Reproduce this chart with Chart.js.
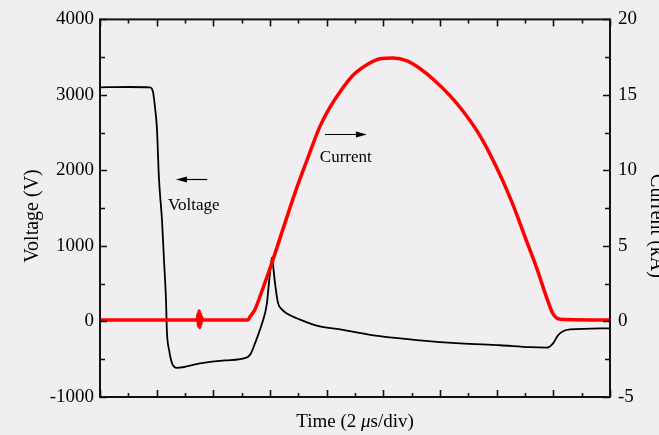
<!DOCTYPE html>
<html>
<head>
<meta charset="utf-8">
<title>Voltage and current waveform</title>
<script src="https://cdn.jsdelivr.net/npm/chart.js@4/dist/chart.umd.min.js"></script>
<style>
  html, body { margin: 0; padding: 0; background: #f1eef1; }
  #wrap { width: 659px; height: 435px; }
</style>
</head>
<body>
<div id="wrap"><canvas id="chart" width="659" height="435"></canvas></div>
<script>
// time in microseconds, voltage in V, current in kA
const voltTime = [0, 1.0, 1.76, 1.87, 1.94, 2.01, 2.08, 2.19, 2.26, 2.33, 2.36, 2.44, 2.54, 2.72,
  3.53, 4.41, 5.19, 5.33, 5.47, 5.72, 5.89, 5.96, 6.04, 6.07, 6.11, 6.18, 6.28, 6.42, 6.60,
  7.06, 7.76, 8.47, 9.88, 11.29, 12.71, 14.12, 15.18, 15.78, 15.99, 16.16, 16.34, 16.59, 18.0];
const voltValues = [3100, 3105, 3100, 3040, 2840, 2550, 1900, 1330, 800, 280, -120, -380, -550, -615,
  -555, -515, -475, -420, -290, -25, 235, 500, 775, 845, 735, 500, 250, 160, 105,
  25, -65, -105, -195, -250, -290, -315, -340, -345, -290, -185, -130, -105, -90];

const currTime = [0, 3.44, 3.46, 3.48, 3.50, 3.52, 3.54, 3.56, 3.58, 3.62, 5.22, 5.29, 5.47, 5.75,
  6.07, 6.42, 6.88, 7.31, 7.76, 8.12, 8.47, 8.93, 9.42, 9.88, 10.34, 10.84, 11.29, 11.75, 12.35,
  12.78, 13.31, 13.76, 14.22, 14.58, 15.0, 15.42, 15.78, 15.99, 16.24, 18.0];
const currValues = [0.1, 0.1, 0.5, -0.3, 0.7, -0.4, 0.5, -0.2, 0.3, 0.1, 0.1, 0.3, 0.8, 2.2,
  3.9, 5.9, 8.5, 10.7, 12.9, 14.2, 15.2, 16.3, 17.0, 17.4, 17.45, 17.25, 16.75, 16.05, 14.95,
  14.0, 12.6, 11.1, 9.3, 7.7, 5.6, 3.5, 1.5, 0.5, 0.15, 0.1];

const voltTicks = [-1000, 0, 1000, 2000, 3000, 4000];
const currTicks = [-5, 0, 5, 10, 15, 20];

const serif = "'Liberation Serif', 'Times New Roman', serif";

function toPoints(xs, ys) {
  return xs.map((x, i) => ({ x: x, y: ys[i] }));
}

function arrow(ctx, x1, y, x2) {
  // shaft from x1 to x2, head at x2
  const dir = x2 > x1 ? 1 : -1;
  ctx.beginPath();
  ctx.moveTo(x1, y);
  ctx.lineTo(x2 - dir * 6, y);
  ctx.lineWidth = 1.2;
  ctx.strokeStyle = '#000';
  ctx.stroke();
  ctx.beginPath();
  ctx.moveTo(x2, y);
  ctx.lineTo(x2 - dir * 11, y - 3);
  ctx.lineTo(x2 - dir * 11, y + 3);
  ctx.closePath();
  ctx.fillStyle = '#000';
  ctx.fill();
}

// x-axis title with an italic mu
function timeTitle(ctx, cx, y) {
  const parts = [
    ['Time (2 ', '19px ' + serif],
    ['\u03bc', 'italic 19px ' + serif],
    ['s/div)', '19px ' + serif]
  ];
  let total = 0;
  parts.forEach(p => { ctx.font = p[1]; total += ctx.measureText(p[0]).width; });
  let x = cx - total / 2;
  ctx.textAlign = 'left';
  parts.forEach(p => {
    ctx.font = p[1];
    ctx.fillText(p[0], x, y);
    x += ctx.measureText(p[0]).width;
  });
}

// frame, inward ticks, axis titles and the two labels
const decorations = {
  id: 'decorations',
  afterDraw(chart) {
    const { ctx, chartArea: a, scales } = chart;
    const sx = scales.x, sy = scales.y, sy2 = scales.y2;
    ctx.save();
    ctx.strokeStyle = '#111';
    ctx.lineWidth = 1.6;
    ctx.beginPath();
    // x ticks, bottom and top
    for (let t = 0; t <= 18; t += 1) {
      const px = Math.round(sx.getPixelForValue(t)) + 0.5;
      const len = t % 2 === 0 ? 7 : 4;
      ctx.moveTo(px, a.bottom); ctx.lineTo(px, a.bottom - len);
      ctx.moveTo(px, a.top); ctx.lineTo(px, a.top + len);
    }
    // voltage ticks on the left
    for (let v = -1000; v <= 4000; v += 500) {
      const py = Math.round(sy.getPixelForValue(v)) + 0.5;
      const len = v % 1000 === 0 ? 7 : 5;
      ctx.moveTo(a.left, py); ctx.lineTo(a.left + len, py);
    }
    // current ticks on the right
    for (let c = -5; c <= 20; c += 2.5) {
      const py = Math.round(sy2.getPixelForValue(c)) + 0.5;
      const len = c % 5 === 0 ? 7 : 5;
      ctx.moveTo(a.right, py); ctx.lineTo(a.right - len, py);
    }
    ctx.stroke();
    ctx.lineWidth = 2;
    ctx.strokeRect(a.left, a.top, a.right - a.left, a.bottom - a.top);

    ctx.fillStyle = '#000';
    ctx.textBaseline = 'alphabetic';
    timeTitle(ctx, (a.left + a.right) / 2, 427);

    ctx.textAlign = 'center';
    ctx.save();
    ctx.translate(38, 216);
    ctx.rotate(-Math.PI / 2);
    ctx.font = '20px ' + serif;
    ctx.fillText('Voltage (V)', 0, 0);
    ctx.restore();

    ctx.save();
    ctx.translate(651, 226);
    ctx.rotate(Math.PI / 2);
    ctx.font = '20px ' + serif;
    ctx.fillText('Current (kA)', 0, 0);
    ctx.restore();

    // in-plot labels placed in data coordinates
    ctx.font = '17px ' + serif;
    ctx.textAlign = 'left';
    ctx.fillText('Voltage', sx.getPixelForValue(2.40), sy.getPixelForValue(1474));
    ctx.fillText('Current', sx.getPixelForValue(7.76), sy.getPixelForValue(2118));
    arrow(ctx, sx.getPixelForValue(3.78), Math.round(sy.getPixelForValue(1882)) + 0.5, sx.getPixelForValue(2.68));
    arrow(ctx, sx.getPixelForValue(7.94), Math.round(sy.getPixelForValue(2487)) + 0.5, sx.getPixelForValue(9.42));
    ctx.restore();
  }
};

new Chart(document.getElementById('chart'), {
  type: 'line',
  data: {
    datasets: [
      {
        label: 'Current',
        data: toPoints(currTime, currValues),
        yAxisID: 'y2',
        borderColor: '#ff0000',
        borderWidth: 3.5,
        pointRadius: 0,
        cubicInterpolationMode: 'monotone'
      },
      {
        label: 'Voltage',
        data: toPoints(voltTime, voltValues),
        yAxisID: 'y',
        borderColor: '#000000',
        borderWidth: 1.8,
        pointRadius: 0,
        cubicInterpolationMode: 'monotone'
      }
    ]
  },
  options: {
    responsive: false,
    animation: false,
    devicePixelRatio: 1,
    layout: { padding: { top: 17, left: 0, right: 0, bottom: 0 } },
    plugins: { legend: { display: false }, tooltip: { enabled: false } },
    scales: {
      x: {
        type: 'linear', min: 0, max: 18,
        grid: { display: false }, border: { display: false },
        ticks: { display: false },
        afterFit(s) { s.height = 38; }
      },
      y: {
        position: 'left', min: -1000, max: 4000,
        grid: { display: false, drawTicks: false }, border: { display: false },
        afterBuildTicks(s) { s.ticks = voltTicks.map(v => ({ value: v })); },
        ticks: { color: '#000', padding: 6, font: { family: serif, size: 19 }, callback: v => String(v) },
        afterFit(s) { s.width = 100; }
      },
      y2: {
        position: 'right', min: -5, max: 20,
        grid: { display: false, drawTicks: false }, border: { display: false },
        afterBuildTicks(s) { s.ticks = currTicks.map(v => ({ value: v })); },
        ticks: { color: '#000', padding: 8, font: { family: serif, size: 19 }, callback: v => String(v) },
        afterFit(s) { s.width = 49; }
      }
    }
  },
  plugins: [decorations]
});
</script>
</body>
</html>
